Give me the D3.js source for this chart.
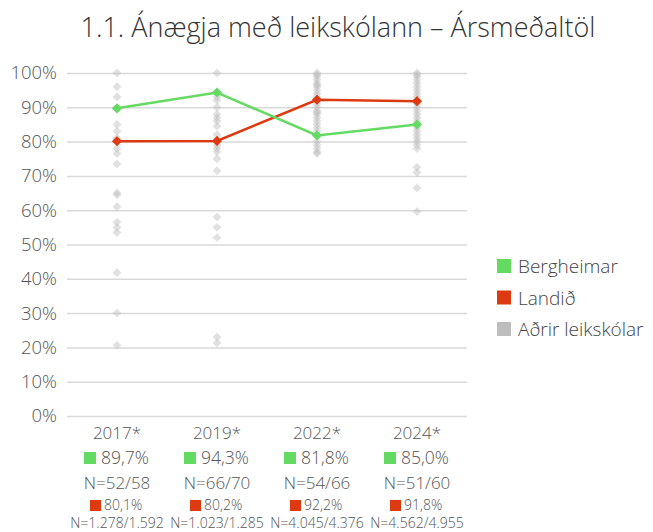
<!DOCTYPE html>
<html>
<head>
<meta charset="utf-8">
<script src="https://cdn.jsdelivr.net/npm/d3@7"></script>
<style>
  body { margin: 0; background: #fff; }
  text { font-family: "Open Sans", Lato, sans-serif; }
</style>
</head>
<body>
<div id="chart"></div>
<script>
var years = ["2017*", "2019*", "2022*", "2024*"];
var bergheimar = [89.7, 94.3, 81.8, 85.0];
var bergheimarN = ["N=52/58", "N=66/70", "N=54/66", "N=51/60"];
var landid = [80.1, 80.2, 92.2, 91.8];
var landidN = ["N=1.278/1.592", "N=1.023/1.285", "N=4.045/4.376", "N=4.562/4.955"];
// other schools, one list per year
var adrir2017 = [100, 96, 93, 89.5, 85, 83, 81, 80.5, 78, 76.5, 73.5, 65, 64.5, 61, 56.5, 55, 53.5, 41.8, 30, 20.6];
var adrir2019 = [100, 93, 92, 90, 88, 87, 86, 84.5, 82, 79, 78, 77, 75, 71.5, 58, 55, 52, 23, 21.3];
var adrir2022 = [100, 99.5, 99, 98, 97, 96.5, 96, 95, 94, 93, 92, 91, 90, 89, 88.5, 88, 87, 86, 85, 84, 83, 82, 80, 79, 78, 77, 76.5];
var adrir2024 = [100, 99.5, 99, 98, 97, 96, 95, 94, 93, 92, 91, 90, 89, 88, 87, 86, 84, 83, 82, 81, 80, 79, 78, 72.5, 71, 66.5, 59.6];
var adrir = [adrir2017, adrir2019, adrir2022, adrir2024];
var yTicks = [0, 10, 20, 30, 40, 50, 60, 70, 80, 90, 100];
var legendLabels = ["Bergheimar", "Landið", "Aðrir leikskólar"];

var width = 653, height = 532;
var green = "#65da63", red = "#dd3a12", grey = "#bdbdbd";

var svg = d3.select("#chart").append("svg")
  .attr("width", width)
  .attr("height", height);

var x = d3.scaleBand().domain(years).range([67, 467]);
var y = d3.scaleLinear().domain([0, 100]).range([416, 73]);
var cx = function(d) { return x(d) + x.bandwidth() / 2; };

svg.append("text")
  .attr("x", 338).attr("y", 37)
  .attr("text-anchor", "middle")
  .attr("font-size", 27)
  .attr("font-weight", 300)
  .attr("fill", "#333")
  .text("1.1. Ánægja með leikskólann – Ársmeðaltöl");

// gridlines + y labels
var yAxis = svg.append("g")
  .attr("transform", "translate(67,0)")
  .call(d3.axisLeft(y).tickValues(yTicks).tickSize(-400).tickFormat(function(d) { return d + "%"; }));
yAxis.select(".domain").remove();
yAxis.selectAll(".tick line").attr("stroke", "#d9d9d9").attr("stroke-width", 1.5);
yAxis.selectAll(".tick text")
  .attr("x", -10)
  .attr("font-size", 18.5)
  .attr("font-weight", 300)
  .attr("fill", "#555")
  .style("font-family", "'Open Sans', sans-serif");

var diamond = d3.symbol().type(d3.symbolDiamond2);

// other schools
adrir.forEach(function(vals, i) {
  svg.append("g").selectAll("path")
    .data(vals)
    .enter().append("path")
    .attr("d", diamond.size(50)())
    .attr("transform", function(d) { return "translate(" + cx(years[i]) + "," + y(d) + ")"; })
    .attr("fill", grey)
    .attr("fill-opacity", 0.45);
});

var line = d3.line()
  .x(function(d, i) { return cx(years[i]); })
  .y(function(d) { return y(d); });

[[landid, red], [bergheimar, green]].forEach(function(s) {
  svg.append("path")
    .datum(s[0])
    .attr("d", line)
    .attr("fill", "none")
    .attr("stroke", s[1])
    .attr("stroke-width", 2.5);
  svg.append("g").selectAll("path")
    .data(s[0])
    .enter().append("path")
    .attr("d", diamond.size(65)())
    .attr("transform", function(d, i) { return "translate(" + cx(years[i]) + "," + y(d) + ")"; })
    .attr("fill", s[1]);
});

// bottom labels
var fmt = function(v) { return v.toFixed(1).replace(".", ",") + "%"; };
var cols = svg.append("g").selectAll("g")
  .data(years)
  .enter().append("g")
  .attr("transform", function(d) { return "translate(" + cx(d) + ",0)"; });

cols.append("text")
  .attr("y", 439).attr("text-anchor", "middle")
  .attr("font-size", 17).attr("font-weight", 300).attr("fill", "#555")
  .text(function(d) { return d; });

cols.append("rect")
  .attr("x", -33).attr("y", 452).attr("width", 12).attr("height", 12)
  .attr("fill", green);
cols.append("text")
  .attr("x", -16).attr("y", 464)
  .attr("font-size", 17.5).attr("font-weight", 300).attr("fill", "#555")
  .text(function(d, i) { return fmt(bergheimar[i]); });

cols.append("text")
  .attr("y", 489).attr("text-anchor", "middle")
  .attr("font-size", 17).attr("font-weight", 300).attr("fill", "#555")
  .text(function(d, i) { return bergheimarN[i]; });

cols.append("rect")
  .attr("x", -27).attr("y", 500).attr("width", 11).attr("height", 11)
  .attr("fill", red);
cols.append("text")
  .attr("x", -13).attr("y", 510)
  .attr("font-size", 14).attr("font-weight", 300).attr("fill", "#555")
  .text(function(d, i) { return fmt(landid[i]); });

cols.append("text")
  .attr("y", 528).attr("text-anchor", "middle")
  .attr("font-size", 14).attr("font-weight", 300).attr("fill", "#555")
  .text(function(d, i) { return landidN[i]; });

// legend
var legend = svg.append("g").selectAll("g")
  .data(legendLabels)
  .enter().append("g")
  .attr("transform", function(d, i) { return "translate(497," + (259 + i * 31.5) + ")"; });
legend.append("rect")
  .attr("width", 14).attr("height", 14)
  .attr("fill", function(d, i) { return [green, red, grey][i]; });
legend.append("text")
  .attr("x", 21).attr("y", 14)
  .attr("font-size", 19).attr("font-weight", 300).attr("fill", "#444")
  .text(function(d) { return d; });
</script>
</body>
</html>
